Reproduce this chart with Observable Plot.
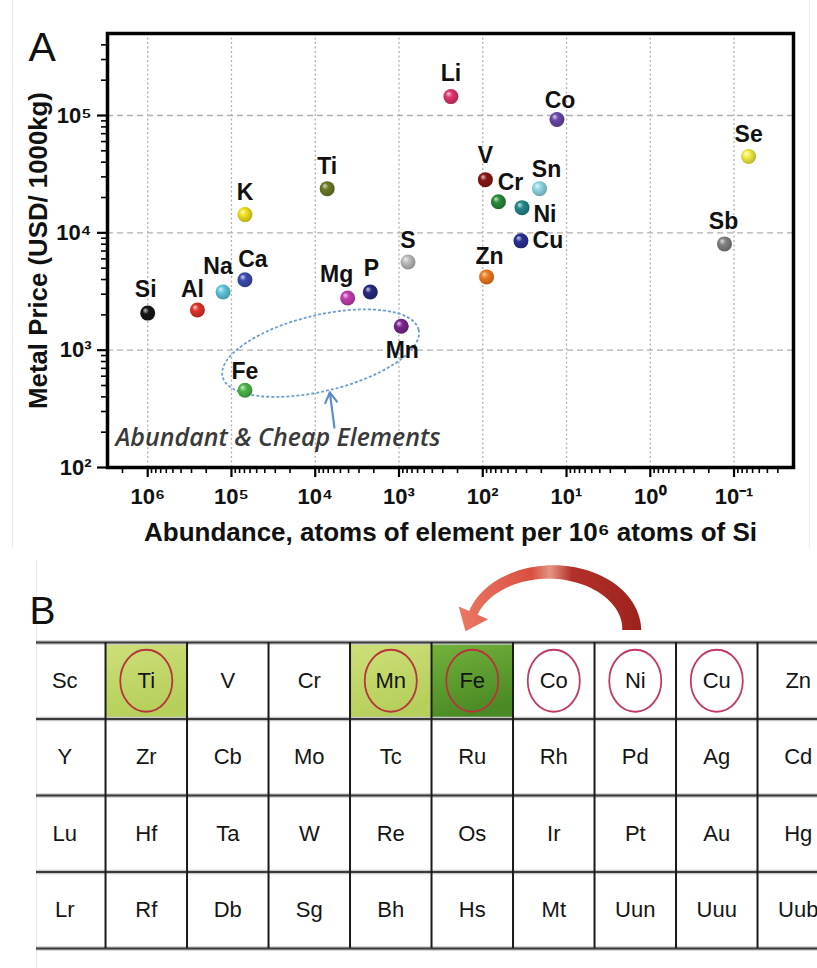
<!DOCTYPE html>
<html><head><meta charset="utf-8">
<script src="https://cdn.jsdelivr.net/npm/d3@7"></script>
<script src="https://cdn.jsdelivr.net/npm/@observablehq/plot@0.6"></script>
<style>
html,body{margin:0;padding:0;background:#fff;}
body{width:817px;height:968px;overflow:hidden;position:relative;font-family:"Liberation Sans",Arial,sans-serif;}
#a{position:absolute;left:0;top:0;}
#b{position:absolute;left:0;top:550px;}
.edge{position:absolute;background:#ececec;width:1px;}
</style></head><body>
<div class="edge" style="left:12px;top:0;height:548px"></div>
<div class="edge" style="left:809px;top:0;height:548px"></div>
<div class="edge" style="left:36px;top:560px;height:408px"></div>
<div id="a"></div><div id="b"></div>
<script>
// ---------- Panel A data ----------
const symbols   = ["Si","Al","Na","Ca","K","Ti","Fe","Mg","P","Mn","S","Li","Co","Se","V","Cr","Sn","Ni","Cu","Zn","Sb"];
const abundance = [1e6, 2.55e5, 1.26e5, 6.9e4, 6.9e4, 7.2e3, 6.9e4, 4.1e3, 2.2e3, 9.4e2, 7.8e2, 2.4e2, 13, 0.067, 93, 65, 21, 34, 35, 90, 0.13];
const price     = [2070, 2200, 3130, 3980, 14300, 23800, 455, 2780, 3130, 1600, 5650, 145000, 92500, 44700, 28400, 18400, 23800, 16400, 8550, 4210, 8050];
const colors    = ["#151515","#e2332b","#5fc8dc","#3b4cb0","#f2e21e","#6c7a28","#4cb848","#c23eb0","#262a80","#7a2590","#bdbdbd","#e23370","#6a48aa","#f2ee44","#8a1616","#2a8c3a","#8fd8e6","#23898a","#2a3194","#f27a1e","#828282"];
const xTicks = [1e6, 1e5, 1e4, 1e3, 1e2, 1e1, 1e0, 1e-1];
const xTickLabels = ["10⁶","10⁵","10⁴","10³","10²","10¹","10⁰","10⁻¹"];
const yTicks = [1e2, 1e3, 1e4, 1e5];
const yTickLabels = ["10²","10³","10⁴","10⁵"];
const xLabel = "Abundance, atoms of element per 10⁶ atoms of Si";
const yLabel = "Metal Price (USD/ 1000kg)";
const calloutText = "Abundant & Cheap Elements";
const ellipseEnds = [{abundance: 1.26e5, price: 590}, {abundance: 575, price: 1480}];
const calloutArrow = [{x1: 5900, y1: 219, x2: 6700, y2: 437}];

// ---------- Panel B data ----------
const tableRows = [
  ["Sc","Ti","V","Cr","Mn","Fe","Co","Ni","Cu","Zn"],
  ["Y","Zr","Cb","Mo","Tc","Ru","Rh","Pd","Ag","Cd"],
  ["Lu","Hf","Ta","W","Re","Os","Ir","Pt","Au","Hg"],
  ["Lr","Rf","Db","Sg","Bh","Hs","Mt","Uun","Uuu","Uub"]
];
const shadedLight = ["Ti","Mn"];
const shadedDark = ["Fe"];
const circledCheap = ["Ti","Mn","Fe"];
const circledCostly = ["Co","Ni","Cu"];
const arrowFrom = "Ni", arrowTo = "Fe";

// ---------- layout (styles) ----------
const labelOffset = {Si:[-2,-23], Al:[-5,-20], Na:[-5,-25], Ca:[8,-20], K:[0,-22], Ti:[0,-22], Fe:[0,-19],
  Mg:[-11,-23], P:[1,-23], Mn:[1,24], S:[0,-21], Li:[0,-23], Co:[3,-19], Se:[0,-22], V:[0,-24],
  Cr:[12,-19], Sn:[7,-19], Ni:[23,7], Cu:[27,0], Zn:[3,-20], Sb:[-1,-22]};
const FONT = "'Liberation Sans', Arial, sans-serif";

const pts = symbols.map((s, i) => ({symbol: s, abundance: abundance[i], price: price[i], color: colors[i], i}));

const minorX = [];
for (let e = -2; e <= 6; e++) for (let k = 2; k <= 9; k++) { const v = k * 10 ** e; if (v < 3.0e6 && v > 0.02) minorX.push(v); }
const minorY = [];
for (let e = 2; e <= 5; e++) for (let k = 2; k <= 9; k++) { const v = k * 10 ** e; if (v < 5e5) minorY.push(v); }

const dotDefs = () => {
  const defs = d3.create("svg:defs");
  pts.forEach(p => {
    const g = defs.append("radialGradient").attr("id", "dotg" + p.i)
      .attr("cx", 0.45).attr("cy", 0.45).attr("r", 0.62).attr("fx", 0.33).attr("fy", 0.3);
    g.append("stop").attr("offset", 0).attr("stop-color", d3.interpolateRgb(p.color, "#ffffff")(0.75));
    g.append("stop").attr("offset", 0.35).attr("stop-color", p.color);
    g.append("stop").attr("offset", 1).attr("stop-color", d3.color(p.color).darker(0.9).formatHex());
  });
  return defs.node();
};

const ellipseMark = (index, scales) => {
  const [p, q] = ellipseEnds.map(d => [scales.x(d.abundance), scales.y(d.price)]);
  const cx = (p[0] + q[0]) / 2, cy = (p[1] + q[1]) / 2;
  const ang = Math.atan2(q[1] - p[1], q[0] - p[0]) * 180 / Math.PI;
  const rx = Math.hypot(q[0] - p[0], q[1] - p[1]) / 2;
  const e = d3.create("svg:ellipse")
    .attr("cx", cx).attr("cy", cy).attr("rx", rx).attr("ry", 38)
    .attr("transform", `rotate(${ang} ${cx} ${cy})`)
    .attr("fill", "none").attr("stroke", "#6d9dd2").attr("stroke-width", 1.8).attr("stroke-dasharray", "3,2");
  return e.node();
};

const labelMarks = pts.map(p => Plot.text([p], {
  x: "abundance", y: "price", text: "symbol",
  dx: labelOffset[p.symbol][0], dy: labelOffset[p.symbol][1],
  fontSize: 23, fontWeight: "bold", fill: "#111", fontFamily: FONT
}));

const chartA = Plot.plot({
  width: 817, height: 550,
  marginLeft: 107, marginRight: 24, marginTop: 33, marginBottom: 83,
  style: {fontFamily: FONT, background: "transparent", overflow: "visible"},
  x: {type: "log", domain: [3.02e6, 0.0195]},
  y: {type: "log", domain: [100, 5.0e5]},
  color: {type: "identity"},
  marks: [
    dotDefs,
    Plot.gridX(xTicks, {stroke: "#b0b0b0", strokeOpacity: 1, strokeWidth: 1.3, strokeDasharray: "2,2.5"}),
    Plot.gridY([1e3, 1e4, 1e5], {stroke: "#b0b0b0", strokeOpacity: 1, strokeWidth: 1.3, strokeDasharray: "6,4"}),
    Plot.axisX(minorX, {tickSize: 6, strokeWidth: 1.6, tickFormat: () => "", label: null}),
    Plot.axisY(minorY, {tickSize: 6, strokeWidth: 1.6, tickFormat: () => "", label: null}),
    Plot.axisX(xTicks, {tickSize: 10, strokeWidth: 2.2, tickPadding: 11, label: null,
      tickFormat: d => xTickLabels[xTicks.indexOf(d)], fontSize: 22, fontWeight: "bold", fill: "#111"}),
    Plot.axisY(yTicks, {tickSize: 10, strokeWidth: 2.2, tickPadding: 6, label: null,
      tickFormat: d => yTickLabels[yTicks.indexOf(d)], fontSize: 22, fontWeight: "bold", fill: "#111"}),
    Plot.frame({stroke: "#000", strokeWidth: 3.5}),
    ellipseMark,
    Plot.arrow(calloutArrow, {x1: "x1", y1: "y1", x2: "x2", y2: "y2", stroke: "#5b8ccc", strokeWidth: 2.2}),
    Plot.text([calloutText], {frameAnchor: "bottom-left", dx: 8, dy: -30, textAnchor: "start", lineAnchor: "middle",
      fontFamily: "'Open Sans', sans-serif", fontStyle: "italic", fontWeight: 600, fontSize: 25, fill: "#3a3a3a"}),
    Plot.dot(pts, {x: "abundance", y: "price", r: 7.5, fill: d => `url(#dotg${d.i})`}),
    ...labelMarks,
    Plot.text([yLabel], {frameAnchor: "left", textAnchor: "middle", lineAnchor: "middle", rotate: -90, dx: -69,
      fontSize: 25.8, fontWeight: "bold", fill: "#111"}),
    Plot.text([xLabel], {frameAnchor: "bottom", textAnchor: "middle", lineAnchor: "middle", dy: 65,
      fontSize: 26, fontWeight: "bold", fill: "#111"}),
    Plot.text(["A"], {frameAnchor: "top-left", dx: -79, dy: 14, textAnchor: "start", lineAnchor: "middle", fontSize: 41, fill: "#111"})
  ]
});
document.getElementById("a").appendChild(chartA);

// ---------- Panel B ----------
const cells = tableRows.flatMap((row, r) => row.map((s, c) => ({s, r, c})));
const shaded = cells.filter(d => shadedLight.includes(d.s) || shadedDark.includes(d.s))
  .map(d => ({...d, fill: shadedDark.includes(d.s) ? "url(#cellDark)" : "url(#cellLight)"}));
const circled = cells.filter(d => circledCheap.includes(d.s) || circledCostly.includes(d.s))
  .map(d => ({...d, stroke: circledCheap.includes(d.s) ? "#b8343c" : "#c23a62"}));

const ellipseSymbol = {
  draw(ctx, size) {
    const r = Math.sqrt(size / Math.PI), rx = r * 0.84, ry = r, k = 0.5523;
    ctx.moveTo(rx, 0);
    ctx.bezierCurveTo(rx, ry * k, rx * k, ry, 0, ry);
    ctx.bezierCurveTo(-rx * k, ry, -rx, ry * k, -rx, 0);
    ctx.bezierCurveTo(-rx, -ry * k, -rx * k, -ry, 0, -ry);
    ctx.bezierCurveTo(rx * k, -ry, rx, -ry * k, rx, 0);
    ctx.closePath();
  }
};

const cellDefs = () => {
  const defs = d3.create("svg:defs");
  const lg = defs.append("linearGradient").attr("id", "cellLight").attr("x1", 0).attr("y1", 0).attr("x2", 0.3).attr("y2", 1);
  lg.append("stop").attr("offset", 0).attr("stop-color", "#cde07a");
  lg.append("stop").attr("offset", 1).attr("stop-color", "#b6cf5a");
  const dg = defs.append("linearGradient").attr("id", "cellDark").attr("x1", 0).attr("y1", 0).attr("x2", 0.3).attr("y2", 1);
  dg.append("stop").attr("offset", 0).attr("stop-color", "#74b33c");
  dg.append("stop").attr("offset", 1).attr("stop-color", "#4a8a24");
  const ag = defs.append("linearGradient").attr("id", "arrowGrad").attr("x1", 0).attr("y1", 0).attr("x2", 1).attr("y2", 0);
  ag.append("stop").attr("offset", 0).attr("stop-color", "#ec7866");
  ag.append("stop").attr("offset", 0.4).attr("stop-color", "#d9503f");
  ag.append("stop").attr("offset", 0.5).attr("stop-color", "#e59484");
  ag.append("stop").attr("offset", 0.62).attr("stop-color", "#b4302a");
  ag.append("stop").attr("offset", 1).attr("stop-color", "#9c221c");
  return defs.node();
};

const curvedArrow = (index, scales) => {
  const colFrom = tableRows[0].indexOf(arrowFrom) + 0.5, colTo = tableRows[0].indexOf(arrowTo) + 0.5;
  const bx = scales.x(colFrom) - 3, tx = scales.x(colTo) - 2, cy = scales.y(0) - 12;
  const rx = (bx - tx) / 2, ry = 58, cx = (bx + tx) / 2;
  const thH = Math.PI - 0.3, n = 48;
  const C = th => [cx + rx * Math.cos(th), cy - ry * Math.sin(th)];
  const U = th => { const dx = -rx * Math.sin(th), dy = -ry * Math.cos(th), l = Math.hypot(dx, dy); return [dx / l, dy / l]; };
  const outer = [], inner = [];
  for (let j = 0; j <= n; j++) {
    const t = j / n, th = thH * t, w = (19 - 10 * t) / 2;
    const [x, y] = C(th), [ux, uy] = U(th), nx = -uy, ny = ux;
    outer.push([x - nx * w, y - ny * w]);
    inner.push([x + nx * w, y + ny * w]);
  }
  const [hx, hy] = C(thH), [ux, uy] = U(thH), nx = -uy, ny = ux;
  const wingA = [hx - nx * 16, hy - ny * 16], wingB = [hx + nx * 16, hy + ny * 16], tip = [hx + ux * 20, hy + uy * 20];
  const pathPts = [...outer, wingA, tip, wingB, ...inner.reverse()];
  return d3.create("svg:path").attr("d", "M" + pathPts.map(p => p.map(v => v.toFixed(2)).join(",")).join("L") + "Z")
    .attr("fill", "url(#arrowGrad)").node();
};

const chartB = Plot.plot({
  width: 817, height: 418,
  marginLeft: 36, marginRight: 0, marginTop: 92, marginBottom: 20,
  style: {fontFamily: FONT, background: "transparent", overflow: "visible"},
  x: {type: "linear", domain: [0.153, 9.736], axis: null},
  y: {type: "linear", domain: [0, 4], reverse: true, axis: null},
  marks: [
    cellDefs,
    Plot.rect(shaded, {x1: "c", x2: d => d.c + 1, y1: "r", y2: d => d.r + 1, fill: "fill"}),
    Plot.ruleY([0, 1, 2, 3, 4], {stroke: "#c8c8c8", strokeWidth: 4.5}),
    Plot.ruleY([0, 1, 2, 3, 4], {stroke: "#3a3a3a", strokeWidth: 2}),
    Plot.ruleX(d3.range(1, 10), {stroke: "#1a1a1a", strokeWidth: 2}),
    Plot.dot(circled, {x: d => d.c + 0.5, y: d => d.r + 0.5, r: 31, symbol: ellipseSymbol, stroke: "stroke", strokeWidth: 1.8, fill: "none"}),
    Plot.text(cells, {x: d => d.c + 0.5, y: d => d.r + 0.5, text: "s", fontSize: 22, fill: "#151515"}),
    curvedArrow,
    Plot.text(["B"], {frameAnchor: "top-left", dx: -7, dy: -31, textAnchor: "start", lineAnchor: "middle", fontSize: 39, fill: "#111"})
  ]
});
document.getElementById("b").appendChild(chartB);
</script>
</body></html>
